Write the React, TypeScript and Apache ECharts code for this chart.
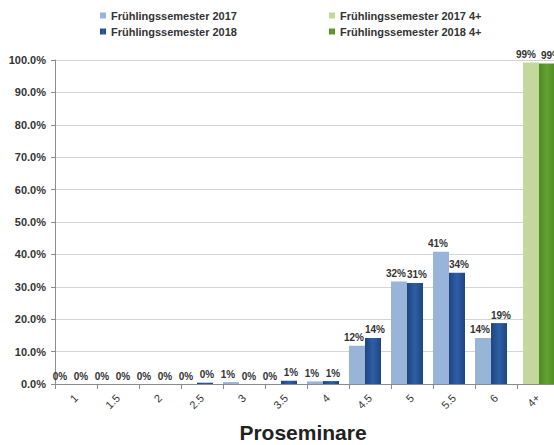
import React, { useEffect, useRef } from "react";
import * as echarts from "echarts";

const categories = ["1", "1.5", "2", "2.5", "3", "3.5", "4", "4.5", "5", "5.5", "6", "4+"];
const fs2017 = [0, 0, 0, 0, 0.6, 0, 0.8, 11.8, 31.6, 40.8, 14.2, null];
const fs2018 = [0, 0, 0, 0.4, 0, 1.0, 0.9, 14.2, 31.2, 34.3, 18.8, null];
const fs2017plus = [null, null, null, null, null, null, null, null, null, null, null, 99.2];
const fs2018plus = [null, null, null, null, null, null, null, null, null, null, null, 98.9];
const yTicks = { min: 0, max: 100, interval: 10 };

const FONT = "'Liberation Sans', Arial, sans-serif";
const TXT = "#333333";

export default function App() {
  const ref = useRef<HTMLDivElement>(null);
  useEffect(() => {
    if (!ref.current) return;
    document.body.style.overflow = "hidden";
    const chart = echarts.init(ref.current, null, { renderer: "svg" });
    const darkBlue = new echarts.graphic.LinearGradient(0, 0, 1, 0, [
      { offset: 0, color: "#1f4580" },
      { offset: 0.5, color: "#2d5fa6" },
      { offset: 1, color: "#1f4580" },
    ]);
    const darkGreen = new echarts.graphic.LinearGradient(0, 0, 1, 0, [
      { offset: 0, color: "#4f8a24" },
      { offset: 0.5, color: "#62a232" },
      { offset: 1, color: "#4f8a24" },
    ]);
    const mkLabel = (dx: number) => ({
      show: true,
      position: "top" as const,
      distance: 3,
      offset: [dx, 0],
      fontFamily: FONT,
      fontSize: 10,
      fontWeight: "bold" as const,
      color: TXT,
      formatter: (p: any) => (p.value == null ? "" : Math.round(p.value) + "%"),
    });
    const gridBase = { top: 60, width: 504, height: 324 };
    const hiddenX = (gi: number) => ({
      type: "category" as const,
      gridIndex: gi,
      data: categories,
      show: false,
    });
    const hiddenY = (gi: number) => ({
      type: "value" as const,
      gridIndex: gi,
      ...yTicks,
      show: false,
      splitLine: { show: false },
    });
    const legendText = { fontFamily: FONT, fontSize: 11, fontWeight: "bold" as const, color: TXT };
    chart.setOption({
      animation: false,
      textStyle: { fontFamily: FONT },
      legend: [
        {
          orient: "vertical",
          left: 95,
          top: 5,
          itemWidth: 6,
          itemHeight: 6,
          itemGap: 5,
          icon: "rect",
          textStyle: legendText,
          data: ["Frühlingssemester 2017", "Frühlingssemester 2018"],
        },
        {
          orient: "vertical",
          left: 324,
          top: 5,
          itemWidth: 6,
          itemHeight: 6,
          itemGap: 5,
          icon: "rect",
          textStyle: legendText,
          data: ["Frühlingssemester 2017 4+", "Frühlingssemester 2018 4+"],
        },
      ],
      grid: [
        { left: 55, ...gridBase },
        { left: 50, ...gridBase },
        { left: 56, ...gridBase },
      ],
      xAxis: [
        {
          type: "category",
          gridIndex: 0,
          data: categories,
          axisLine: { lineStyle: { color: "#8c8c8c" } },
          axisTick: { show: true, length: 5, lineStyle: { color: "#8c8c8c" } },
          axisLabel: {
            rotate: 45,
            margin: 12,
            fontFamily: FONT,
            fontSize: 11,
            color: TXT,
          },
        },
        hiddenX(1),
        hiddenX(2),
      ],
      yAxis: [
        {
          type: "value",
          gridIndex: 0,
          ...yTicks,
          axisLine: { show: true, lineStyle: { color: "#8c8c8c" } },
          axisTick: { show: true, length: 4, lineStyle: { color: "#8c8c8c" } },
          splitLine: { lineStyle: { color: "#d4d4d4" } },
          axisLabel: {
            margin: 9,
            fontFamily: FONT,
            fontSize: 11,
            fontWeight: "bold",
            color: TXT,
            formatter: (v: number) => v.toFixed(1) + "%",
          },
        },
        hiddenY(1),
        hiddenY(2),
      ],
      series: [
        {
          name: "Frühlingssemester 2017",
          type: "bar",
          xAxisIndex: 1,
          yAxisIndex: 1,
          data: fs2017,
          barWidth: 16,
          barGap: "0%",
          itemStyle: { color: "#98b5d9" },
          label: mkLabel(-3),
        },
        {
          name: "Frühlingssemester 2018",
          type: "bar",
          xAxisIndex: 1,
          yAxisIndex: 1,
          data: fs2018,
          barWidth: 16,
          barGap: "0%",
          itemStyle: { color: darkBlue },
          label: mkLabel(2),
        },
        {
          name: "Frühlingssemester 2017 4+",
          type: "bar",
          xAxisIndex: 2,
          yAxisIndex: 2,
          data: fs2017plus,
          barWidth: 16,
          barGap: "0%",
          itemStyle: { color: "#c4d89d" },
          label: mkLabel(-5),
        },
        {
          name: "Frühlingssemester 2018 4+",
          type: "bar",
          xAxisIndex: 2,
          yAxisIndex: 2,
          data: fs2018plus,
          barWidth: 16,
          barGap: "0%",
          itemStyle: { color: darkGreen },
          label: mkLabel(4),
        },
      ],
      graphic: [
        {
          type: "text",
          x: 303,
          y: 432,
          style: {
            text: "Proseminare",
            fontFamily: FONT,
            fontSize: 21,
            fontWeight: "bold",
            fill: "#222222",
            textAlign: "center",
            textVerticalAlign: "middle",
          },
        },
      ],
    });
    return () => chart.dispose();
  }, []);
  return (
    <div
      ref={ref}
      style={{ position: "fixed", left: 0, top: 0, width: 580, height: 445, background: "#ffffff" }}
    />
  );
}
